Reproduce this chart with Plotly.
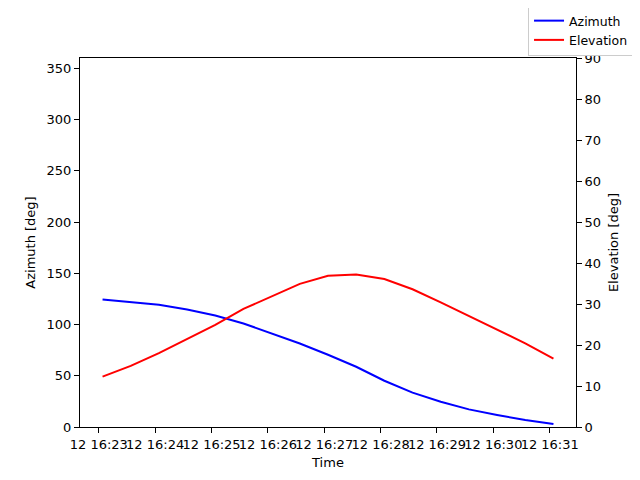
import plotly.graph_objects as go

# pass samples, every 30 s
times = ['2024-03-12 16:23:04', '2024-03-12 16:23:34', '2024-03-12 16:24:04', '2024-03-12 16:24:34',
         '2024-03-12 16:25:04', '2024-03-12 16:25:34', '2024-03-12 16:26:04', '2024-03-12 16:26:34',
         '2024-03-12 16:27:04', '2024-03-12 16:27:34', '2024-03-12 16:28:04', '2024-03-12 16:28:34',
         '2024-03-12 16:29:04', '2024-03-12 16:29:34', '2024-03-12 16:30:04', '2024-03-12 16:30:34',
         '2024-03-12 16:31:04']
azimuth = [124.5, 122.1, 119.2, 114.7, 108.8, 101.0, 91.3, 81.5, 70.5,
           58.8, 45.1, 33.5, 24.7, 17.2, 11.7, 6.8, 2.9]
elevation = [12.3, 14.9, 18.0, 21.5, 24.9, 28.8, 31.8, 34.9, 36.9,
             37.2, 36.1, 33.6, 30.4, 27.1, 23.7, 20.4, 16.7]

font = dict(family='DejaVu Sans', size=13, color='black')

fig = go.Figure()
fig.add_trace(go.Scatter(x=times, y=azimuth, name='Azimuth', mode='lines',
                         line=dict(color='blue', width=2)))
fig.add_trace(go.Scatter(x=times, y=elevation, name='Elevation', mode='lines',
                         line=dict(color='red', width=2), yaxis='y2'))

axis_style = dict(showgrid=False, zeroline=False, automargin=False,
                  showline=True, linecolor='black', linewidth=1,
                  ticks='outside', ticklen=5, tickcolor='black', tickfont=font)

# page body has an 8px margin, so the figure is 8px smaller each way
fig.update_layout(
    width=632, height=472, font=font,
    plot_bgcolor='white', paper_bgcolor='white',
    margin=dict(l=72, r=64, t=50, b=53, autoexpand=False),
    legend=dict(x=1.117, y=1.1436, xanchor='right', yanchor='top', tracegroupgap=0,
                bordercolor='#cccccc', borderwidth=1, bgcolor='white',
                font=dict(family='DejaVu Sans', size=12.5)),
    xaxis=dict(title=dict(text='Time', standoff=7, font=font), type='date',
               range=['2024-03-12 16:22:40', '2024-03-12 16:31:28'],
               tick0='2024-03-12 16:23:00', dtick=60000, tickformat='%d %H:%M',
               tickangle=0, mirror=True, **axis_style),
    yaxis=dict(title=dict(text='Azimuth [deg]', standoff=8, font=font), range=[0, 360], dtick=50,
               **axis_style),
    yaxis2=dict(title=dict(text='Elevation [deg]', standoff=8, font=font), range=[0, 90], dtick=10,
                overlaying='y', side='right', **axis_style),
)

fig.write_html("out.html")
